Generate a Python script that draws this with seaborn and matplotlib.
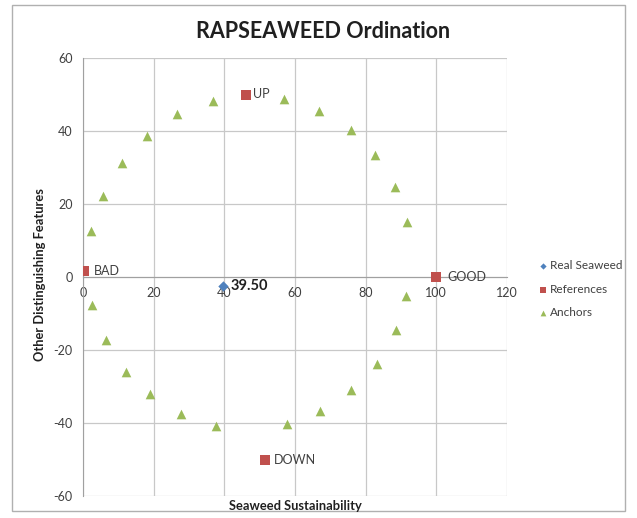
import matplotlib
matplotlib.use("Agg")
import matplotlib.pyplot as plt
import seaborn as sns
import pandas as pd
from matplotlib.patches import Rectangle

sns.set_style("white")
plt.rcParams['font.family'] = ['Lato', 'DejaVu Sans']
plt.rcParams['axes.unicode_minus'] = False

# ---- data ----
anchor_x = [2.3, 5.6, 10.9, 18.0, 26.6, 36.7, 56.8, 66.9, 75.8, 82.7, 88.2, 91.7,
            91.5, 88.5, 83.2, 75.9, 67.2, 57.6, 37.7, 27.7, 19.0, 12.1, 6.4, 2.5]
anchor_y = [12.7, 22.3, 31.2, 38.7, 44.7, 48.3, 48.7, 45.4, 40.3, 33.4, 24.7, 15.1,
            -5.2, -14.5, -23.8, -31.0, -36.7, -40.3, -40.8, -37.5, -32.1, -25.9, -17.3, -7.7]
ref_names = ["UP", "GOOD", "DOWN", "BAD"]
ref_x = [46.2, 100.0, 51.5, 0.2]
ref_y = [50.0, 0.0, -50.0, 1.7]
real_x = [39.5]
real_y = [-2.5]
real_label = "39.50"
series = ["Real Seaweed", "References", "Anchors"]
x_ticks = [0, 20, 40, 60, 80, 100, 120]
y_ticks = [-60, -40, -20, 0, 20, 40, 60]

df = pd.DataFrame({
    "x": real_x + ref_x + anchor_x,
    "y": real_y + ref_y + anchor_y,
    "series": [series[0]] * len(real_x) + [series[1]] * len(ref_x) + [series[2]] * len(anchor_x),
})

colors = {"Real Seaweed": "#4F81BD", "References": "#C0504D", "Anchors": "#9BBB59"}
markers = {"Real Seaweed": "D", "References": "s", "Anchors": "^"}
sizes = {"Real Seaweed": 28, "References": 48, "Anchors": 48}

fig = plt.figure(figsize=(6.37, 5.18), dpi=100)
ax = fig.add_axes([83 / 637, 1 - 496 / 518, (507 - 83) / 637, (496 - 58) / 518])

for s in series:
    sub = df[df.series == s]
    sns.scatterplot(data=sub, x="x", y="y", color=colors[s], marker=markers[s],
                    s=sizes[s], linewidth=0, ax=ax, label=s, zorder=3)

ax.set_xlim(0, 120)
ax.set_ylim(-60, 60)
ax.set_xticks(x_ticks)
ax.set_yticks(y_ticks)
ax.set_xlabel("")
ax.set_ylabel("")
ax.grid(True, color="#c8c8c8", linewidth=0.9)
ax.set_axisbelow(True)
for sp in ["top", "right"]:
    ax.spines[sp].set_visible(False)
ax.spines["bottom"].set_position(("data", 0))
ax.spines["bottom"].set_color("#a0a0a0")
ax.spines["left"].set_color("#a0a0a0")
ax.tick_params(axis="both", colors="#a0a0a0", labelcolor="#404040", labelsize=9,
               direction="out", length=4, width=0.8)
ax.tick_params(axis="x", pad=3)

# point labels
offs = {"UP": (1.8, 0), "GOOD": (3.0, 0), "DOWN": (2.5, 0), "BAD": (3.0, 0)}
for n, xx, yy in zip(ref_names, ref_x, ref_y):
    ax.text(xx + offs[n][0], yy, n, fontsize=9, color="#404040", va="center", ha="left", zorder=4)
ax.text(real_x[0] + 2.2, real_y[0], real_label, fontsize=10.5, fontweight="bold",
        color="#202020", va="center", ha="left", zorder=4)

leg = ax.legend(loc="center left", bbox_to_anchor=(1.045, 0.472), frameon=False,
                fontsize=8.5, handletextpad=0.1, labelspacing=1.05, markerscale=0.6,
                handlelength=1.0)
for t in leg.get_texts():
    t.set_color("#404040")

fig.text(323 / 637, 1 - 31 / 518, "RAPSEAWEED Ordination", ha="center", va="center",
         fontsize=15.5, fontweight="bold", color="#202020")
fig.text(295 / 637, 1 - 506 / 518, "Seaweed Sustainability", ha="center", va="center",
         fontsize=9.3, fontweight="bold", color="#202020")
fig.text(40 / 637, 1 - 275 / 518, "Other Distinguishing Features", ha="center", va="center",
         rotation=90, fontsize=9.3, fontweight="bold", color="#202020")

fig.patches.append(Rectangle((12 / 637, 1 - 511 / 518), (625 - 12) / 637, (511 - 5) / 518,
                             transform=fig.transFigure, fill=False, edgecolor="#b0b0b0",
                             linewidth=1.0, zorder=0))

fig.savefig("out.png", dpi=100)
